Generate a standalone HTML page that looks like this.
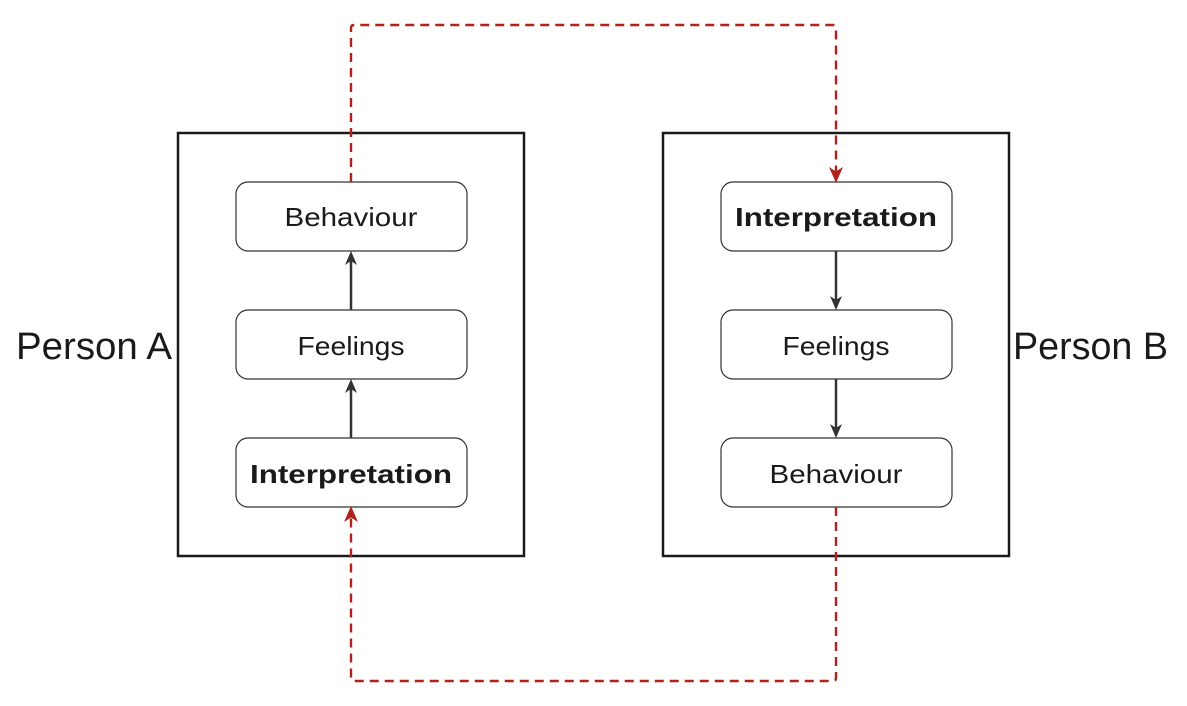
<!DOCTYPE html>
<html><head><style>
body{margin:0;background:#fff;}
svg text{font-family:"Liberation Sans",sans-serif;fill:#1a1a1a;}
</style></head><body>
<svg width="1187" height="701" viewBox="0 0 1187 701" xmlns="http://www.w3.org/2000/svg">
<defs>
<marker id="ak" markerWidth="14" markerHeight="14" refX="7" refY="7" orient="auto" markerUnits="userSpaceOnUse"><path d="M0,1 L14,7 L0,13 L4,7 Z" fill="#333"/></marker>
<marker id="ar" markerWidth="16" markerHeight="16" refX="8" refY="8" orient="auto" markerUnits="userSpaceOnUse"><path d="M0,1 L16,8 L0,15 L4.5,8 Z" fill="#b0221c"/></marker>
</defs>
<rect x="178" y="133" width="346" height="423" fill="none" stroke="#1a1a1a" stroke-width="2.5"/>
<rect x="663" y="133" width="346" height="423" fill="none" stroke="#1a1a1a" stroke-width="2.5"/>
<g fill="#fff" stroke="#333" stroke-width="1.2">
<rect x="236" y="182" width="231" height="69" rx="12"/>
<rect x="236" y="310" width="231" height="69" rx="12"/>
<rect x="236" y="438" width="231" height="69" rx="12"/>
<rect x="721" y="182" width="231" height="69" rx="12"/>
<rect x="721" y="310" width="231" height="69" rx="12"/>
<rect x="721" y="438" width="231" height="69" rx="12"/>
</g>
<g font-size="26" text-anchor="middle">
<text x="351" y="226" textLength="133" lengthAdjust="spacingAndGlyphs">Behaviour</text>
<text x="351" y="355" textLength="107" lengthAdjust="spacingAndGlyphs">Feelings</text>
<text x="351" y="483" font-weight="bold" textLength="202" lengthAdjust="spacingAndGlyphs">Interpretation</text>
<text x="836" y="226" font-weight="bold" textLength="202" lengthAdjust="spacingAndGlyphs">Interpretation</text>
<text x="836" y="355" textLength="107" lengthAdjust="spacingAndGlyphs">Feelings</text>
<text x="836" y="483" textLength="133" lengthAdjust="spacingAndGlyphs">Behaviour</text>
</g>
<text x="16" y="359" font-size="38" textLength="156" lengthAdjust="spacingAndGlyphs">Person A</text>
<text x="1013" y="359" font-size="38" textLength="155" lengthAdjust="spacingAndGlyphs">Person B</text>
<g stroke="#333" stroke-width="2.5">
<line x1="351" y1="310" x2="351" y2="258" marker-end="url(#ak)"/>
<line x1="351" y1="438" x2="351" y2="386" marker-end="url(#ak)"/>
<line x1="836" y1="251" x2="836" y2="303" marker-end="url(#ak)"/>
<line x1="836" y1="379" x2="836" y2="431" marker-end="url(#ak)"/>
</g>
<g fill="none" stroke="#b0221c" stroke-width="2.4" stroke-dasharray="9,6">
<path d="M351,182 V28 Q351,25 354,25 H833 Q836,25 836,28 V175" marker-end="url(#ar)"/>
<path d="M836,507 V678 Q836,681 833,681 H354 Q351,681 351,678 V514" marker-end="url(#ar)"/>
</g>
</svg>
</body></html>
